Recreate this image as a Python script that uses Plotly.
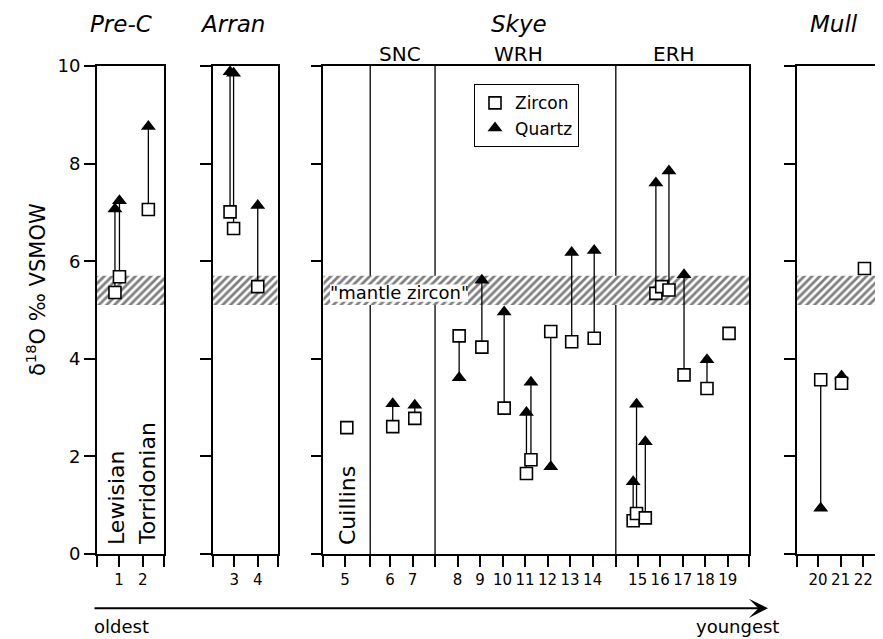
import plotly.graph_objects as go

# ---------------- data ----------------
sample_no = [1, 1, 2, 3, 3, 4, 5, 6, 7, 8, 9, 10, 11, 11, 12, 13, 14,
             15, 15, 15, 16, 16, 16, 17, 18, 19, 20, 21, 22]
# small horizontal offsets of the sample pairs around their tick (in sample units)
sample_jitter = [-0.17, 0.02, 0.24, -0.18, -0.03, 0.0, 0.08, 0.12, 0.10, 0.07, 0.08, 0.07,
                 0.06, 0.26, 0.14, 0.07, 0.07, -0.20, -0.05, 0.34, -0.19, 0.07, 0.39,
                 0.06, 0.08, 0.06, 0.12, 0.04, 0.05]
zircon_d18o = [5.36, 5.68, 7.06, 7.01, 6.67, 5.48, 2.59, 2.61, 2.78, 4.47, 4.24, 2.99,
               1.65, 1.93, 4.56, 4.35, 4.42, 0.68, 0.83, 0.74, 5.34, 5.48, 5.41,
               3.67, 3.39, 4.52, 3.57, 3.50, 5.85]
quartz_d18o = [7.07, 7.24, 8.76, 9.88, 9.85, 7.14, None, 3.08, 3.05, 3.61, 5.61, 4.96,
               2.90, 3.52, 1.79, 6.18, 6.22, 1.48, 3.07, 2.30, 7.60, None, 7.85,
               5.72, 3.98, None, 0.94, 3.65, None]

panel_names = ["Pre-C", "Arran", "Skye", "Mull"]
panel_samples = [[1, 2], [3, 4], list(range(5, 20)), [20, 21, 22]]
skye_group_names = ["SNC", "WRH", "ERH"]
skye_group_samples = [[6, 7], [8, 9, 10, 11, 12, 13, 14], [15, 16, 17, 18, 19]]
skye_breaks = [5, 7, 14]          # last sample before each Skye divider
rock_labels = ["Lewisian", "Torridonian", "Cuillins"]
rock_label_samples = [1, 2, 5]
mantle_zircon = [5.1, 5.7]
y_ticks = [0, 2, 4, 6, 8, 10]

# ---------------- layout geometry (reference pixels) ----------------
REF_W, REF_H = 883, 639
OFF = 8                     # page body margin
W, H = REF_W - OFF, REF_H - OFF
TOP, BOT = 66, 554
panel_px = [(96.7, 164.0), (212.7, 277.7), (323.3, 749.0), (796.7, 883.0)]
panel_range = [(0.06, 2.90), (2.08, 4.85), (4.036, 22.946), (19.06, 22.87)]
skye_dividers = [6.12, 9.0, 17.03]

def px_x(p):
    return min(1.0, (p - OFF) / W)

def px_y(p):
    return (BOT - p) / (BOT - TOP)

def slot(n, panel):
    if panel == 2:
        return n + sum(1 for b in skye_breaks if n > b)
    return n

def panel_of(n):
    for i, s in enumerate(panel_samples):
        if n in s:
            return i
    return None

fig = go.Figure()

# hatched "mantle zircon" band in each panel
for i in range(4):
    r0, r1 = panel_range[i]
    xa = "x" if i == 0 else f"x{i+1}"
    ya = "y" if i == 0 else f"y{i+1}"
    fig.add_trace(go.Scatter(
        x=[r0, r1, r1, r0, r0],
        y=[mantle_zircon[0], mantle_zircon[0], mantle_zircon[1], mantle_zircon[1], mantle_zircon[0]],
        mode="lines", line=dict(width=0), fill="toself", fillcolor="white",
        fillpattern=dict(shape="/", fgcolor="black", bgcolor="white", size=5.5, solidity=0.5),
        xaxis=xa, yaxis=ya, showlegend=False, hoverinfo="skip"))

# connecting lines, quartz triangles, zircon squares
for i in range(4):
    xa = "x" if i == 0 else f"x{i+1}"
    ya = "y" if i == 0 else f"y{i+1}"
    lx, ly, qx, qy, zx, zy = [], [], [], [], [], []
    for n, j, z, q in zip(sample_no, sample_jitter, zircon_d18o, quartz_d18o):
        if panel_of(n) != i:
            continue
        xp = slot(n, i) + j
        zx.append(xp); zy.append(z)
        if q is not None:
            qx.append(xp); qy.append(q)
            lx += [xp, xp, None]; ly += [z, q, None]
    fig.add_trace(go.Scatter(x=lx, y=ly, mode="lines", line=dict(color="black", width=1.3),
                             xaxis=xa, yaxis=ya, showlegend=False, hoverinfo="skip"))
    fig.add_trace(go.Scatter(x=qx, y=qy, mode="markers", name="Quartz",
                             marker=dict(symbol="triangle-up", size=13, color="black",
                                         line=dict(width=0)),
                             xaxis=xa, yaxis=ya, showlegend=(i == 0), legendrank=2))
    fig.add_trace(go.Scatter(x=zx, y=zy, mode="markers", name="Zircon",
                             marker=dict(symbol="square", size=12, color="white",
                                         line=dict(color="black", width=1.6)),
                             xaxis=xa, yaxis=ya, showlegend=(i == 0), legendrank=1))

layout = dict(
    width=W, height=H, margin=dict(l=0, r=0, t=TOP - OFF, b=REF_H - BOT, pad=0),
    paper_bgcolor="white", plot_bgcolor="white",
    font=dict(family="DejaVu Sans", size=16, color="black"),
    legend=dict(x=px_x(474), y=px_y(84.3), xanchor="left", yanchor="top",
                bordercolor="black", borderwidth=1, bgcolor="white",
                font=dict(size=17), itemwidth=30, tracegroupgap=0),
    showlegend=True,
)

for i in range(4):
    r0, r1 = panel_range[i]
    tv = [r0, r1]
    tt = ["", ""]
    for n in panel_samples[i]:
        tv.append(slot(n, i)); tt.append(str(n))
    if i == 2:
        for d in skye_dividers:
            tv.append(d); tt.append("")
    xkey = "xaxis" if i == 0 else f"xaxis{i+1}"
    ykey = "yaxis" if i == 0 else f"yaxis{i+1}"
    layout[xkey] = dict(domain=[px_x(panel_px[i][0]), px_x(panel_px[i][1])], range=list(panel_range[i]),
                        anchor="y" if i == 0 else f"y{i+1}",
                        showline=True, mirror=True, linecolor="black", linewidth=1.5,
                        ticks="outside", ticklen=11, tickwidth=1.5, tickcolor="black",
                        tickmode="array", tickvals=tv, ticktext=tt, tickfont=dict(size=15),
                        showgrid=False, zeroline=False)
    layout[ykey] = dict(range=[0, 10], anchor="x" if i == 0 else f"x{i+1}",
                        showline=True, mirror=(i != 3), linecolor="black", linewidth=1.5,
                        ticks="outside", ticklen=11, tickwidth=1.5, tickcolor="black",
                        tickmode="array", tickvals=y_ticks,
                        showticklabels=(i == 0), tickfont=dict(size=18),
                        showgrid=False, zeroline=False)
    if i != 0:
        layout[ykey]["matches"] = "y"

fig.update_layout(**layout)

# Skye internal dividers
for d in skye_dividers:
    fig.add_shape(type="line", xref="x3", yref="y3", x0=d, x1=d, y0=0, y1=10,
                  line=dict(color="black", width=1.3), layer="below")

# white box behind the "mantle zircon" label
fig.add_shape(type="rect", xref="paper", yref="y3", x0=px_x(330), x1=px_x(468),
              y0=5.17, y1=5.52, fillcolor="white", line=dict(width=0), layer="above")

ann = []
title_x = [121, 233, 519.5, 834]
for name, x in zip(panel_names, title_x):
    ann.append(dict(text=f"<i>{name}</i>", x=px_x(x), y=px_y(24), xref="paper", yref="paper",
                    showarrow=False, xanchor="center", yanchor="middle", font=dict(size=23)))
sub_x = [400, 519, 674]
for name, x in zip(skye_group_names, sub_x):
    ann.append(dict(text=name, x=px_x(x), y=px_y(54.5), xref="paper", yref="paper",
                    showarrow=False, xanchor="center", yanchor="middle", font=dict(size=20)))
rock_x = [116.5, 147.5, 347.5]
for name, x in zip(rock_labels, rock_x):
    ann.append(dict(text=name, x=px_x(x), y=px_y(547), xref="paper", yref="paper",
                    showarrow=False, textangle=-90, xanchor="center", yanchor="bottom",
                    font=dict(size=22)))
ann.append(dict(text="\"mantle zircon\"", x=px_x(328), y=5.36, xref="paper", yref="y3",
                showarrow=False, xanchor="left", yanchor="middle", font=dict(size=18)))
ann.append(dict(text="\u03b4<sup>18</sup>O \u2030 VSMOW", x=px_x(36), y=px_y(290),
                xref="paper", yref="paper", showarrow=False, textangle=-90,
                xanchor="center", yanchor="middle", font=dict(size=21)))
# time arrow
ann.append(dict(text="", x=px_x(768), y=px_y(608.3), xref="paper", yref="paper",
                ax=93 - 768, ay=0, axref="pixel", ayref="pixel", showarrow=True,
                arrowhead=3, arrowwidth=2, arrowsize=1.6, arrowcolor="black"))
ann.append(dict(text="oldest", x=px_x(92), y=px_y(626), xref="paper", yref="paper",
                showarrow=False, xanchor="left", yanchor="middle", font=dict(size=18)))
ann.append(dict(text="youngest", x=px_x(781), y=px_y(626), xref="paper", yref="paper",
                showarrow=False, xanchor="right", yanchor="middle", font=dict(size=18)))
fig.update_layout(annotations=ann)

fig.write_html("out.html")
